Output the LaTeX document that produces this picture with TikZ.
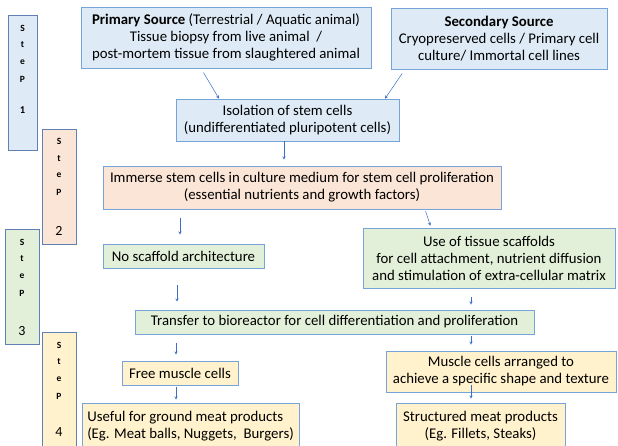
\documentclass[tikz,border=0pt]{standalone}
\usepackage{fontspec}
\setmainfont{Carlito}
\usetikzlibrary{arrows,positioning}

\begin{document}
\begin{tikzpicture}[x=1pt,y=-1pt,
    box/.style={draw=bdr, line width=0.6pt, inner sep=2pt, align=center,
      font=\fontsize{14.8}{17}\selectfont},
    stepbox/.style={draw=stepbdr, line width=0.8pt, inner sep=0pt},
    steplt/.style={inner sep=0pt, font=\fontsize{9.5}{10}\selectfont\bfseries},
    stepnum/.style={inner sep=0pt, font=\fontsize{14}{14}\selectfont},
    arr/.style={-stealth, draw=arrclr, line width=0.5pt}]
      \definecolor{bdr}{RGB}{118,163,216}
      \definecolor{stepbdr}{RGB}{96,128,182}
      \definecolor{arrclr}{RGB}{60,110,196}
      \definecolor{fblue}{RGB}{222,235,247}
      \definecolor{fpeach}{RGB}{251,229,214}
      \definecolor{fgreen}{RGB}{226,240,217}
      \definecolor{fyellow}{RGB}{255,242,204}
      \clip (0, 0) rectangle (618, 445);

      % step labels
      \node[stepbox, fill=fblue, minimum width=29pt, minimum height=135pt] (s1) at (22.5, 82.5) {};
      \node[stepbox, fill=fpeach, minimum width=34pt, minimum height=115pt] (s2) at (59, 186.5) {};
      \node[stepbox, fill=fgreen, minimum width=34pt, minimum height=115pt] (s3) at (22, 286.5) {};
      \node[stepbox, fill=fyellow, minimum width=34pt, minimum height=118pt] (s4) at (59, 391) {};
      \foreach \n/\x/\y in {1/22.5/28, 2/59/141.5, 3/22/242, 4/59/345}
        \foreach \l [count=\i] in {S,t,e,P}
          \node[steplt] (s\n l\i) at (\x, \y+17*\i-17) {\l};
      \node[stepnum, font=\fontsize{10.5}{12}\selectfont\bfseries] (n1) at (22.5, 110) {1};
      \node[stepnum] (n2) at (59, 231) {2};
      \node[stepnum] (n3) at (22, 331) {3};
      \node[stepnum] (n4) at (59, 432) {4};

      % flow boxes
      \node[box, fill=fblue, minimum width=290pt, minimum height=61pt] (pri) at (226, 37.5)
        {\textbf{Primary Source} (Terrestrial / Aquatic animal)\\Tissue biopsy from live animal~~/\\post-mortem tissue from slaughtered animal};
      \node[box, fill=fblue, minimum width=216pt, minimum height=61pt] (sec) at (499, 38.5)
        {\textbf{Secondary Source}\\Cryopreserved cells / Primary cell\\culture/ Immortal cell lines};
      \node[box, fill=fblue, minimum width=223pt, minimum height=42pt] (iso) at (287.5, 120)
        {Isolation of stem cells\\(undifferentiated pluripotent cells)};
      \node[box, fill=fpeach, minimum width=398pt, minimum height=43pt] (imm) at (302, 187.5)
        {Immerse stem cells in culture medium for stem cell proliferation\\(essential nutrients and growth factors)};
      \node[box, fill=fgreen, minimum width=161pt, minimum height=24pt] (nos) at (183.5, 256)
        {No scaffold architecture};
      \node[box, fill=fgreen, minimum width=252pt, minimum height=60pt] (use) at (489, 258)
        {Use of tissue scaffolds\\for cell attachment, nutrient diffusion\\and stimulation of extra-cellular matrix};
      \node[box, fill=fgreen, minimum width=399pt, minimum height=24pt] (tr) at (334.5, 322)
        {Transfer to bioreactor for cell differentiation and proliferation};
      \node[box, fill=fyellow, minimum width=116pt, minimum height=24pt] (free) at (180, 373)
        {Free muscle cells};
      \node[box, fill=fyellow, minimum width=230pt, minimum height=41pt] (mus) at (501, 371.5)
        {Muscle cells arranged to\\achieve a specific shape and texture};
      \node[box, fill=fyellow, align=left, minimum width=217pt, minimum height=47pt] (usf) at (190.5, 426.5)
        {Useful for ground meat products\\(Eg. Meat balls, Nuggets,~~Burgers)};
      \node[box, fill=fyellow, minimum width=169pt, minimum height=47pt] (str) at (480.5, 426.5)
        {Structured meat products\\(Eg. Fillets, Steaks)};

      % connectors
      \draw[arr, shorten <=5pt] ([xshift=-25pt]pri.south) -- ([xshift=-68.5pt]iso.north);
      \draw[arr, shorten <=5pt] ([xshift=-94pt]sec.south) -- ([xshift=97.5pt]iso.north);
      \draw[arr, shorten >=6pt] ([xshift=-3.5pt]iso.south) -- ([xshift=-3.5pt]iso.south |- imm.north);
      \draw[arr, shorten <=9pt, shorten >=9pt] ([xshift=-3.5pt]imm.south -| nos.north) -- ([xshift=-3.5pt]nos.north);
      \draw[arr, shorten <=2pt, shorten >=2pt] ([xshift=123pt]imm.south) -- ([xshift=-58pt]use.north);
      \draw[arr, shorten <=17pt, shorten >=8pt] ([xshift=-6.5pt]nos.south) -- ([xshift=-6.5pt]nos.south |- tr.north);
      \draw[arr, shorten <=9pt, shorten >=5pt] ([xshift=-18pt]use.south) -- ([xshift=-18pt]use.south |- tr.north);
      \draw[arr, shorten <=9pt, shorten >=6pt] ([xshift=-4pt]free.north |- tr.south) -- ([xshift=-4pt]free.north);
      \draw[arr, shorten <=2pt, shorten >=6pt] ([xshift=-30pt]mus.north |- tr.south) -- ([xshift=-30pt]mus.north);
      \draw[arr, shorten <=2pt, shorten >=3pt] ([xshift=-4pt]free.south) -- ([xshift=-4pt]free.south |- usf.north);
      \draw[arr, shorten <=-7pt, shorten >=4pt] ([xshift=-9.5pt]str.north |- mus.south) -- ([xshift=-9.5pt]str.north);
\end{tikzpicture}
\end{document}
